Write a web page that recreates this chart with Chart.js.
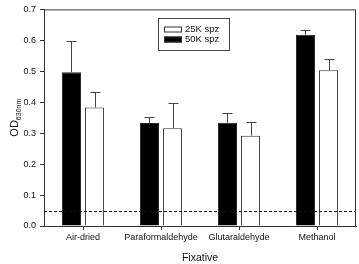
<!DOCTYPE html>
<html>
<head>
<meta charset="utf-8">
<script src="https://cdn.jsdelivr.net/npm/chart.js@4"></script>
<style>
  html, body { margin: 0; padding: 0; background: #fff; }
</style>
</head>
<body>
<canvas id="odChart" width="359" height="264"></canvas>
<script>
const fixatives = ['Air-dried', 'Paraformaldehyde', 'Glutaraldehyde', 'Methanol'];
const od50K = [0.497, 0.333, 0.334, 0.618];
const err50K = [0.100, 0.019, 0.031, 0.016];
const od25K = [0.383, 0.316, 0.292, 0.503];
const err25K = [0.050, 0.081, 0.043, 0.037];
const yTicks = [0, 0.1, 0.2, 0.3, 0.4, 0.5, 0.6, 0.7];
const baseline = 0.048;
const errors = [err50K, err25K];

const FONT = 'Arial, "Liberation Sans", sans-serif';
const AXIS = '#333';

// frame around the plot area (top + right sides)
const framePlugin = {
  id: 'frame',
  afterDraw(chart) {
    const { ctx, chartArea: a } = chart;
    ctx.save();
    ctx.strokeStyle = AXIS;
    ctx.lineWidth = 1;
    ctx.beginPath();
    ctx.moveTo(a.left, a.top + 0.5);
    ctx.lineTo(a.right - 0.5, a.top + 0.5);
    ctx.lineTo(a.right - 0.5, a.bottom);
    ctx.stroke();
    ctx.restore();
  },
};

// dashed background line
const baselinePlugin = {
  id: 'baseline',
  afterDatasetsDraw(chart) {
    const { ctx, chartArea: a, scales } = chart;
    const y = Math.round(scales.y.getPixelForValue(baseline)) + 0.5;
    ctx.save();
    ctx.strokeStyle = '#111';
    ctx.lineWidth = 1;
    ctx.setLineDash([3, 2]);
    ctx.beginPath();
    ctx.moveTo(a.left, y);
    ctx.lineTo(a.right, y);
    ctx.stroke();
    ctx.restore();
  },
};

// upward error bars
const errorBarPlugin = {
  id: 'errorBars',
  afterDatasetsDraw(chart) {
    const { ctx, scales } = chart;
    ctx.save();
    ctx.strokeStyle = '#444';
    ctx.lineWidth = 1;
    chart.data.datasets.forEach((ds, di) => {
      const meta = chart.getDatasetMeta(di);
      meta.data.forEach((bar, i) => {
        const x = Math.round(bar.x) + 0.5;
        const yTop = scales.y.getPixelForValue(ds.data[i] + errors[di][i]);
        ctx.beginPath();
        ctx.moveTo(x, bar.y);
        ctx.lineTo(x, yTop);
        ctx.moveTo(x - 5, Math.round(yTop) + 0.5);
        ctx.lineTo(x + 5, Math.round(yTop) + 0.5);
        ctx.stroke();
      });
    });
    ctx.restore();
  },
};

// boxed legend inside the plot
const legendPlugin = {
  id: 'boxLegend',
  afterDraw(chart) {
    const { ctx } = chart;
    const items = chart.data.datasets.slice().reverse();
    ctx.save();
    ctx.strokeStyle = '#444';
    ctx.lineWidth = 1;
    ctx.strokeRect(158.5, 18.5, 71, 32);
    ctx.font = '9.5px ' + FONT;
    ctx.textBaseline = 'middle';
    ctx.fillStyle = '#111';
    items.forEach((ds, i) => {
      const y = 29.5 + i * 10;
      ctx.fillStyle = ds.backgroundColor;
      ctx.fillRect(164, y - 3, 18, 6);
      ctx.strokeStyle = '#333';
      ctx.strokeRect(164.5, y - 2.5, 17, 5);
      ctx.fillStyle = '#111';
      ctx.fillText(ds.label, 185, y);
    });
    ctx.restore();
  },
};

// y title with subscript
const yTitlePlugin = {
  id: 'yTitle',
  afterDraw(chart) {
    const { ctx, chartArea: a } = chart;
    const main = 'OD', sub = '630nm';
    ctx.save();
    ctx.fillStyle = '#111';
    ctx.font = '11px ' + FONT;
    const w1 = ctx.measureText(main).width;
    ctx.font = '7px ' + FONT;
    const w2 = ctx.measureText(sub).width;
    ctx.translate(18, (a.top + a.bottom) / 2);
    ctx.rotate(-Math.PI / 2);
    ctx.textBaseline = 'alphabetic';
    const start = -(w1 + w2) / 2;
    ctx.font = '11px ' + FONT;
    ctx.fillText(main, start, 0);
    ctx.font = '7px ' + FONT;
    ctx.fillText(sub, start + w1, 3);
    ctx.restore();
  },
};

new Chart(document.getElementById('odChart'), {
  type: 'bar',
  data: {
    labels: fixatives,
    datasets: [
      {
        label: '50K spz',
        data: od50K,
        backgroundColor: '#000',
        borderColor: '#222',
        borderWidth: 1,
      },
      {
        label: '25K spz',
        data: od25K,
        backgroundColor: '#fff',
        borderColor: '#333',
        borderWidth: 1,
      },
    ],
  },
  options: {
    responsive: false,
    animation: false,
    categoryPercentage: 0.59,
    barPercentage: 0.83,
    layout: { padding: { top: 7, right: 3, left: 0, bottom: 0 } },
    scales: {
      x: {
        afterFit(scale) { scale.height = 38; },
        grid: {
          offset: false,
          drawOnChartArea: false,
          tickLength: 4,
          color: AXIS,
        },
        border: { color: AXIS },
        ticks: {
          color: '#111',
          font: { family: FONT, size: 9 },
          padding: 2,
          maxRotation: 0,
          autoSkip: false,
        },
        title: {
          display: true,
          text: 'Fixative',
          color: '#111',
          font: { family: FONT, size: 10.5 },
          padding: { top: 4, bottom: 0 },
        },
      },
      y: {
        min: 0,
        max: 0.7,
        afterFit(scale) { scale.width = 44; },
        afterBuildTicks(scale) {
          scale.ticks = yTicks.map((v) => ({ value: v }));
        },
        grid: {
          drawOnChartArea: false,
          tickLength: 4,
          color: AXIS,
        },
        border: { color: AXIS },
        ticks: {
          color: '#111',
          font: { family: FONT, size: 9 },
          padding: 4,
          callback: (v) => Number(v).toFixed(1),
        },
      },
    },
    plugins: {
      legend: { display: false },
      tooltip: { enabled: false },
    },
  },
  plugins: [baselinePlugin, errorBarPlugin, framePlugin, legendPlugin, yTitlePlugin],
});
</script>
</body>
</html>
